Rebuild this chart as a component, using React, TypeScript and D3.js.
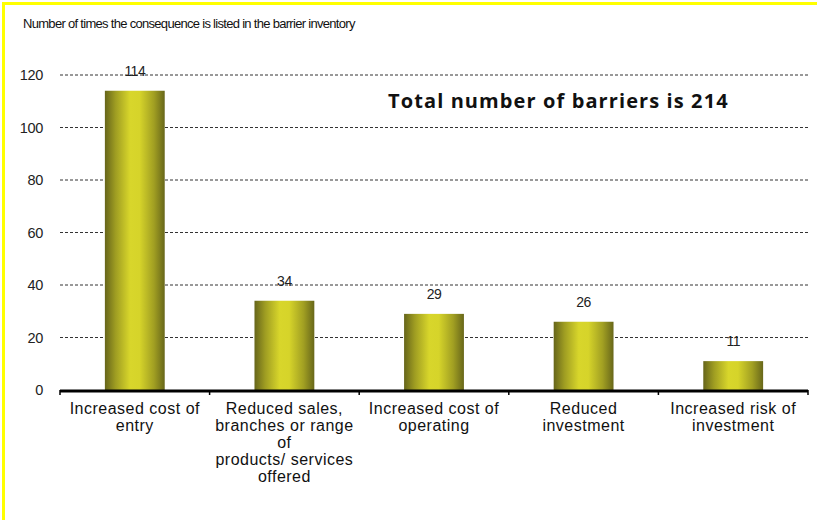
import React from "react";
import * as d3 from "d3";

const categories: string[][] = [
  ["Increased cost of", "entry"],
  ["Reduced sales,", "branches or range", "of", "products/ services", "offered"],
  ["Increased cost of", "operating"],
  ["Reduced", "investment"],
  ["Increased risk of", "investment"],
];
const values: number[] = [114, 34, 29, 26, 11];
const yTicks: number[] = [0, 20, 40, 60, 80, 100, 120];
const subtitle = "Number of times the consequence is listed in the barrier inventory";
const annotation = "Total  number of barriers is 214";

const W = 817;
const H = 520;
const left = 60;
const right = 808;
const top = 75;
const bottom = 390;

export default function App() {
  const x = d3
    .scaleBand<number>()
    .domain(values.map((_, i) => i))
    .range([left, right])
    .paddingInner(0.6)
    .paddingOuter(0.3);
  const band = (right - left) / values.length;
  const y = d3.scaleLinear().domain([0, 120]).range([bottom, top]);
  const font = "'Liberation Sans', Arial, sans-serif";

  return (
    <svg
      width={W}
      height={H}
      style={{ position: "absolute", left: 0, top: 0, background: "#fff" }}
    >
      <defs>
        <linearGradient id="barGrad" x1="0" x2="1" y1="0" y2="0">
          <stop offset="0%" stopColor="#66651a" />
          <stop offset="18%" stopColor="#9f9d22" />
          <stop offset="42%" stopColor="#d8d62b" />
          <stop offset="58%" stopColor="#d6d42a" />
          <stop offset="82%" stopColor="#a19f22" />
          <stop offset="100%" stopColor="#68671a" />
        </linearGradient>
      </defs>
      <rect x={0} y={0} width={W} height={H} fill="#fff" />
      {/* yellow frame */}
      <rect x={3} y={2} width={W - 3} height={3} fill="#ffff00" />
      <rect x={2} y={2} width={3} height={H - 2} fill="#ffff00" />

      <text
        x={23}
        y={28}
        fontFamily={font}
        fontSize={13}
        letterSpacing={-0.7}
        fill="#111"
      >
        {subtitle}
      </text>

      {/* gridlines */}
      {yTicks
        .filter((t) => t > 0)
        .map((t) => (
          <line
            key={"g" + t}
            x1={left}
            x2={right}
            y1={y(t)}
            y2={y(t)}
            stroke="#333"
            strokeWidth={1}
            strokeDasharray="3,2"
          />
        ))}
      {yTicks.map((t) => (
        <text
          key={"t" + t}
          x={43}
          y={y(t) + 5}
          textAnchor="end"
          fontFamily={font}
          fontSize={14.5}
          letterSpacing={-0.3}
          fill="#222"
        >
          {t}
        </text>
      ))}

      {/* bars */}
      {values.map((v, i) => (
        <rect
          key={"b" + i}
          x={x(i)}
          y={y(v)}
          width={x.bandwidth()}
          height={bottom - y(v)}
          fill="url(#barGrad)"
        />
      ))}
      {values.map((v, i) => (
        <text
          key={"v" + i}
          x={(x(i) as number) + x.bandwidth() / 2}
          y={y(v) - 15}
          textAnchor="middle"
          fontFamily={font}
          fontSize={14}
          letterSpacing={-0.5}
          fill="#222"
        >
          {v}
        </text>
      ))}

      {/* x axis */}
      <line x1={left} x2={right} y1={bottom + 1} y2={bottom + 1} stroke="#000" strokeWidth={3} />
      {d3.range(values.length + 1).map((k) => (
        <line
          key={"tk" + k}
          x1={left + k * band}
          x2={left + k * band}
          y1={bottom}
          y2={bottom + 5}
          stroke="#000"
          strokeWidth={1.5}
        />
      ))}
      {categories.map((lines, i) => (
        <text
          key={"c" + i}
          textAnchor="middle"
          fontFamily={font}
          fontSize={16}
          letterSpacing={0.5}
          fill="#111"
        >
          {lines.map((ln, j) => (
            <tspan key={j} x={left + band * (i + 0.5)} y={414 + j * 17}>
              {ln}
            </tspan>
          ))}
        </text>
      ))}

      <text
        x={388}
        y={108}
        fontFamily="'Open Sans', Lato, sans-serif"
        fontWeight="bold"
        fontSize={20}
        letterSpacing={1.1}
        fill="#111"
      >
        {annotation}
      </text>
    </svg>
  );
}
